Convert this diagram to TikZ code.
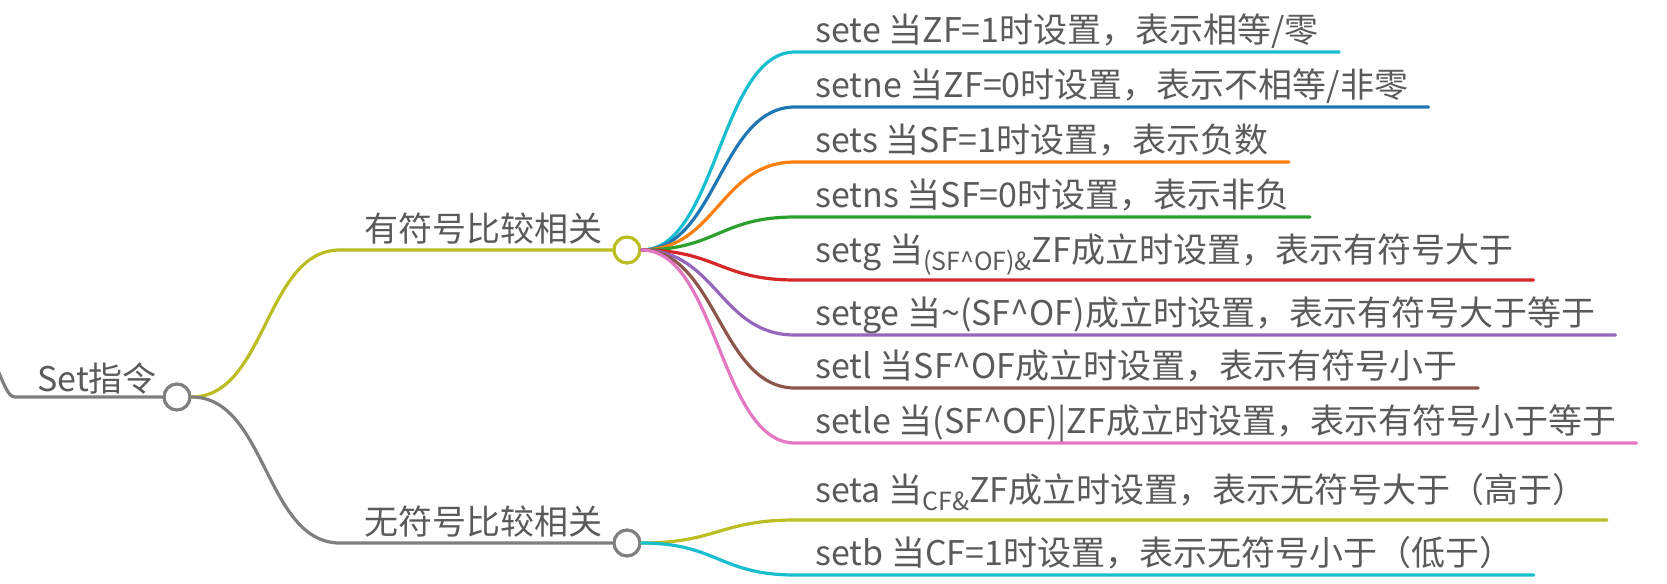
\documentclass[tikz,border=0pt]{standalone}
\usepackage{fontspec}
\setmainfont{Noto Sans CJK SC}
\usetikzlibrary{positioning}
\definecolor{txtgray}{HTML}{5A5A5A}
\definecolor{cgray}{HTML}{7F7F7F}
\definecolor{colive}{HTML}{BCBD22}
\definecolor{ccyan}{HTML}{17BECF}
\definecolor{cblue}{HTML}{1F77B4}
\definecolor{corange}{HTML}{FF7F0E}
\definecolor{cgreen}{HTML}{2CA02C}
\definecolor{cred}{HTML}{D62728}
\definecolor{cpurple}{HTML}{9467BD}
\definecolor{cbrown}{HTML}{8C564B}
\definecolor{cpink}{HTML}{E377C2}
\newcommand{\lowsub}[1]{\raisebox{-4pt}{\fontsize{12.5}{12.5}\selectfont #1}}
\tikzset{
    every node/.style={
        font=\fontsize{17}{20}\selectfont,
        text=txtgray
    },
    topic/.style={
        anchor=south west,
        text depth=0pt,
        inner xsep=12pt,
        inner ysep=4pt
    },
    leaf/.style={
        anchor=south west,
        text depth=0pt,
        inner xsep=10pt,
        inner ysep=4.5pt
    },
    dot/.style={
        circle,
        draw=#1,
        fill=white,
        line width=1.6pt,
        minimum size=13pt,
        inner sep=0pt
    },
    link/.style={
        line width=1.6pt,
        line cap=round,
        draw=#1
    }
}

\begin{document}
\begin{tikzpicture}[
    x=0.5pt,
    y=-0.5pt
]
    \useasboundingbox (0,0) rectangle (1667,584);

    % Raiz
    \coordinate (rootin) at (-4,366);
    \node[topic, inner xsep=11pt, inner ysep=2.5pt] (root) at (15,397) {Set指令};
    \node[dot=cgray] (rootdot) at (177,397) {};

    % Ramas
    \node[topic] (sgn)  at (340,250) {有符号比较相关};
    \node[dot=colive] (sgndot)  at (627,250) {};
    \node[topic] (usgn) at (340,543) {无符号比较相关};
    \node[dot=cgray] (usgndot) at (627,543) {};

    % Hojas con signo
    \node[leaf] (sete)  at (795,52)  {sete 当ZF=1时设置，表示相等/零};
    \node[leaf] (setne) at (795,107) {setne 当ZF=0时设置，表示不相等/非零};
    \node[leaf] (sets)  at (795,162) {sets 当SF=1时设置，表示负数};
    \node[leaf] (setns) at (795,217) {setns 当SF=0时设置，表示非负};
    \node[leaf, text depth=4pt] (setg) at (795,280)
        {setg 当\lowsub{(SF\^{}OF)\&}ZF成立时设置，表示有符号大于};
    \node[leaf] (setge) at (795,335) {setge 当\textasciitilde(SF\^{}OF)成立时设置，表示有符号大于等于};
    \node[leaf] (setl)  at (795,388) {setl 当SF\^{}OF成立时设置，表示有符号小于};
    \node[leaf] (setle) at (795,443) {setle 当(SF\^{}OF)|ZF成立时设置，表示有符号小于等于};

    % Hojas sin signo
    \node[leaf, text depth=4pt] (seta) at (795,520)
        {seta 当\lowsub{CF\&}ZF成立时设置，表示无符号大于（高于）};
    \node[leaf] (setb)  at (795,575) {setb 当CF=1时设置，表示无符号小于（低于）};

    % Raiz y ramas
    \draw[link=cgray] (rootin) .. controls (4,384) and (8,397) .. (root.south west) -- (rootdot.west);
    \draw[link=colive] (rootdot.east) .. controls +(75,0) and +(-75,0) .. (sgn.south west) -- (sgndot.west);
    \draw[link=cgray] (rootdot.east) .. controls +(75,0) and +(-75,0) .. (usgn.south west) -- (usgndot.west);

    % Conexiones a las hojas
    \foreach \leafname/\leafcol in {sete/ccyan, setne/cblue, sets/corange, setns/cgreen,
            setg/cred, setge/cpurple, setl/cbrown, setle/cpink} {
        \draw[link=\leafcol] (sgndot.east) .. controls +(75,0) and +(-75,0) ..
            (\leafname.south west) -- (\leafname.south east);
    }
    \foreach \leafname/\leafcol in {seta/colive, setb/ccyan} {
        \draw[link=\leafcol] (usgndot.east) .. controls +(75,0) and +(-75,0) ..
            (\leafname.south west) -- (\leafname.south east);
    }

\end{tikzpicture}
\end{document}
